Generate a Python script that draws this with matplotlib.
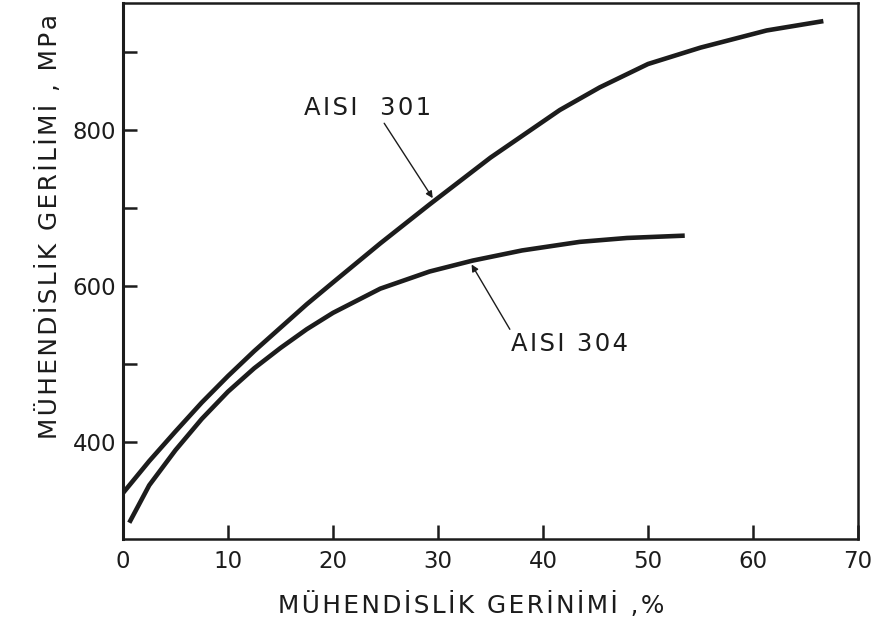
import matplotlib.pyplot as plt

# engineering stress-strain curves
strain_301 = [0, 2.5, 5, 7.5, 10, 12.5, 15, 17.5, 20, 24.5, 29.2, 35, 41.6, 45.4, 50, 55, 61.3, 66.7]
stress_301 = [335, 376, 414, 451, 485, 517, 547, 577, 605, 655, 705, 765, 826, 855, 885, 906, 928, 940]

strain_304 = [0.6, 2.5, 5, 7.5, 10, 12.5, 15, 17.5, 20, 24.5, 29.2, 33.3, 38, 43.5, 48, 53.5]
stress_304 = [297, 345, 390, 430, 465, 495, 521, 545, 566, 597, 619, 633, 646, 657, 662, 665]

x_ticks = [0, 10, 20, 30, 40, 50, 60, 70]
y_ticks = [400, 600, 800]
y_minor = [500, 700, 900]

ink = "#1c1c1c"
plt.rcParams['font.family'] = ['DejaVu Sans']


def spaced(s, gap="\u200a"):
    # widen letter spacing like the lettering stencil
    return gap.join(s)


fig = plt.figure(figsize=(8.74, 6.32), dpi=100)
ax = fig.add_axes([0.1407, 0.147, 0.841, 0.848])

ax.plot(strain_301, stress_301, color=ink, lw=3.3, solid_capstyle='butt')
ax.plot(strain_304, stress_304, color=ink, lw=3.3, solid_capstyle='butt')

ax.set_xlim(0, 70)
ax.set_ylim(276, 963)
ax.set_xticks(x_ticks)
ax.set_yticks(y_ticks)
ax.set_yticks(y_minor, minor=True)

for s in ax.spines.values():
    s.set_linewidth(1.8)
    s.set_color(ink)
ax.spines['left'].set_linewidth(2.2)
ax.tick_params(axis='both', which='both', direction='in', length=10, width=1.8,
               colors=ink, labelsize=16.5, pad=5)
ax.tick_params(axis='x', pad=8)

fig.text(0.539, 0.043, spaced("MÜHENDİSLİK GERİNİMİ ,%"), fontsize=17.8, color=ink,
         ha='center', va='center')
fig.text(0.056, 0.642, spaced("MÜHENDİSLİK GERİLİMİ , MPa"), fontsize=17.8, color=ink,
         ha='center', va='center', rotation=90)

# labels with leader arrows
ax.annotate(spaced("AISI  301"), xy=(29.5, 713), xytext=(17.2, 828), fontsize=17.5,
            color=ink, va='center', ha='left',
            arrowprops=dict(arrowstyle='-|>', color=ink, lw=1.0, mutation_scale=10,
                            shrinkA=0, shrinkB=0, relpos=(0.62, 0)))
ax.annotate(spaced("AISI 304"), xy=(33.2, 628), xytext=(37.0, 526), fontsize=17.5,
            color=ink, va='center', ha='left',
            arrowprops=dict(arrowstyle='-|>', color=ink, lw=1.0, mutation_scale=10,
                            shrinkA=0, shrinkB=0, relpos=(0.0, 1.0)))

fig.savefig("out.png", dpi=100)
